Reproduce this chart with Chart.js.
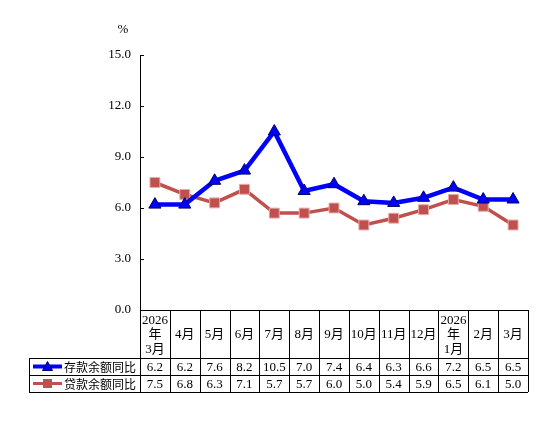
<!DOCTYPE html>
<html>
<head>
<meta charset="utf-8">
<script src="https://cdn.jsdelivr.net/npm/chart.js@4/dist/chart.umd.min.js"></script>
<style>
  body { margin: 0; background: #fff; }
  #wrap { width: 554px; height: 443px; position: relative; }
</style>
</head>
<body>
<div id="wrap"><canvas id="c"></canvas></div>
<script>
// months, header cells split into lines
const months = [
  ['2026', '年', '3月'], ['4月'], ['5月'], ['6月'], ['7月'], ['8月'], ['9月'],
  ['10月'], ['11月'], ['12月'], ['2026', '年', '1月'], ['2月'], ['3月']
];
const seriesNames = ['存款余额同比', '贷款余额同比'];
const deposits = [6.2, 6.2, 7.6, 8.2, 10.5, 7.0, 7.4, 6.4, 6.3, 6.6, 7.2, 6.5, 6.5];
const loans = [7.5, 6.8, 6.3, 7.1, 5.7, 5.7, 6.0, 5.0, 5.4, 5.9, 6.5, 6.1, 5.0];
const yTicks = [0, 3, 6, 9, 12, 15];

const serif = '"Liberation Serif", "DejaVu Serif", serif';
const cjk = '"Noto Sans CJK SC", sans-serif';

// draws the data table under the plot, lined up with the x scale
const tablePlugin = {
  id: 'tablePlugin',
  afterDraw(chart) {
    const ctx = chart.ctx;
    const xs = chart.scales.x;
    const ys = chart.scales.y;
    const area = chart.chartArea;
    const w = xs.getPixelForValue(1) - xs.getPixelForValue(0);
    const left = area.left, right = area.right, top = area.bottom;
    const row1 = top + 48, row2 = row1 + 17, bottom = row2 + 17;
    const tableLeft = 29;

    ctx.save();
    ctx.strokeStyle = '#000';
    ctx.lineWidth = 1;

    // inward y ticks
    yTicks.forEach(v => {
      const y = Math.round(ys.getPixelForValue(v)) + 0.5;
      ctx.beginPath();
      ctx.moveTo(left, y);
      ctx.lineTo(left + 4, y);
      ctx.stroke();
    });

    const hline = (x0, x1, y) => {
      y = Math.round(y) + 0.5;
      ctx.beginPath(); ctx.moveTo(x0, y); ctx.lineTo(x1, y); ctx.stroke();
    };
    const vline = (x, y0, y1) => {
      x = Math.round(x) + 0.5;
      ctx.beginPath(); ctx.moveTo(x, y0); ctx.lineTo(x, y1); ctx.stroke();
    };
    hline(left, right, top);
    hline(tableLeft, right, row1);
    hline(tableLeft, right, row2);
    hline(tableLeft, right, bottom);
    vline(tableLeft, row1, bottom);
    for (let i = 0; i <= months.length; i++) {
      const x = xs.getPixelForValue(0) - w / 2 + i * w;
      vline(x, top, bottom);
    }

    // header text
    ctx.fillStyle = '#000';
    ctx.textAlign = 'center';
    ctx.textBaseline = 'middle';
    months.forEach((lines, i) => {
      const cx = xs.getPixelForValue(i);
      const mid = (top + row1) / 2;
      const lh = 14.5;
      lines.forEach((t, k) => {
        const y = mid + (k - (lines.length - 1) / 2) * lh;
        ctx.font = /^\d+$/.test(t) ? '13px ' + serif : '13px ' + serif + ', ' + cjk;
        ctx.fillText(t, cx, y + 1);
      });
    });

    // value rows
    ctx.font = '13px ' + serif;
    [deposits, loans].forEach((vals, r) => {
      const cy = r === 0 ? (row1 + row2) / 2 : (row2 + bottom) / 2;
      vals.forEach((v, i) => {
        ctx.fillText(v.toFixed(1), xs.getPixelForValue(i), cy + 1);
      });
    });

    // legend keys in the first column
    const ds = chart.data.datasets;
    [row1, row2].forEach((ry, r) => {
      const cy = ry + 8.5;
      const d = ds[r];
      ctx.strokeStyle = d.borderColor;
      ctx.lineWidth = r === 0 ? 4 : 3;
      ctx.beginPath(); ctx.moveTo(33, cy); ctx.lineTo(62, cy); ctx.stroke();
      ctx.fillStyle = d.pointBackgroundColor;
      ctx.strokeStyle = d.pointBorderColor;
      ctx.lineWidth = 1;
      if (r === 0) {
        ctx.beginPath();
        ctx.moveTo(47.5, cy - 5); ctx.lineTo(52.5, cy + 4); ctx.lineTo(42.5, cy + 4);
        ctx.closePath(); ctx.fill(); ctx.stroke();
      } else {
        ctx.fillRect(43, cy - 4.5, 9, 9);
      }
      ctx.fillStyle = '#000';
      ctx.textAlign = 'left';
      ctx.font = '12px ' + cjk;
      ctx.fillText(seriesNames[r], 64, cy + 1);
    });

    // unit label
    ctx.textAlign = 'center';
    ctx.font = '13px ' + serif;
    ctx.fillText('%', 123, 30);
    ctx.restore();
  }
};

new Chart(document.getElementById('c'), {
  type: 'line',
  data: {
    labels: months.map(m => m.join('')),
    datasets: [
      {
        label: seriesNames[0],
        data: deposits,
        borderColor: '#0000FF',
        borderWidth: 4.5,
        pointStyle: 'triangle',
        pointRadius: 7,
        pointBackgroundColor: '#0000FF',
        pointBorderColor: '#000066',
        pointBorderWidth: 1,
        tension: 0
      },
      {
        label: seriesNames[1],
        data: loans,
        borderColor: '#C0504D',
        borderWidth: 3.5,
        pointStyle: 'rect',
        pointRadius: 7,
        pointBackgroundColor: '#C0504D',
        pointBorderColor: '#E3A9A7',
        pointBorderWidth: 1,
        tension: 0
      }
    ]
  },
  options: {
    responsive: true,
    maintainAspectRatio: false,
    animation: false,
    layout: { padding: { top: 55, bottom: 133, right: 26, left: 0 } },
    plugins: { legend: { display: false }, tooltip: { enabled: false } },
    scales: {
      x: { display: false, offset: true },
      y: {
        min: 0,
        max: 15,
        afterBuildTicks(scale) { scale.ticks = yTicks.map(v => ({ value: v })); },
        afterFit(scale) { scale.width = 140; },
        grid: { drawOnChartArea: false, drawTicks: false },
        border: { color: '#000', width: 1 },
        ticks: {
          padding: 9,
          color: '#000',
          font: { family: serif, size: 13 },
          callback: v => v.toFixed(1)
        }
      }
    }
  },
  plugins: [tablePlugin]
});
</script>
</body>
</html>
